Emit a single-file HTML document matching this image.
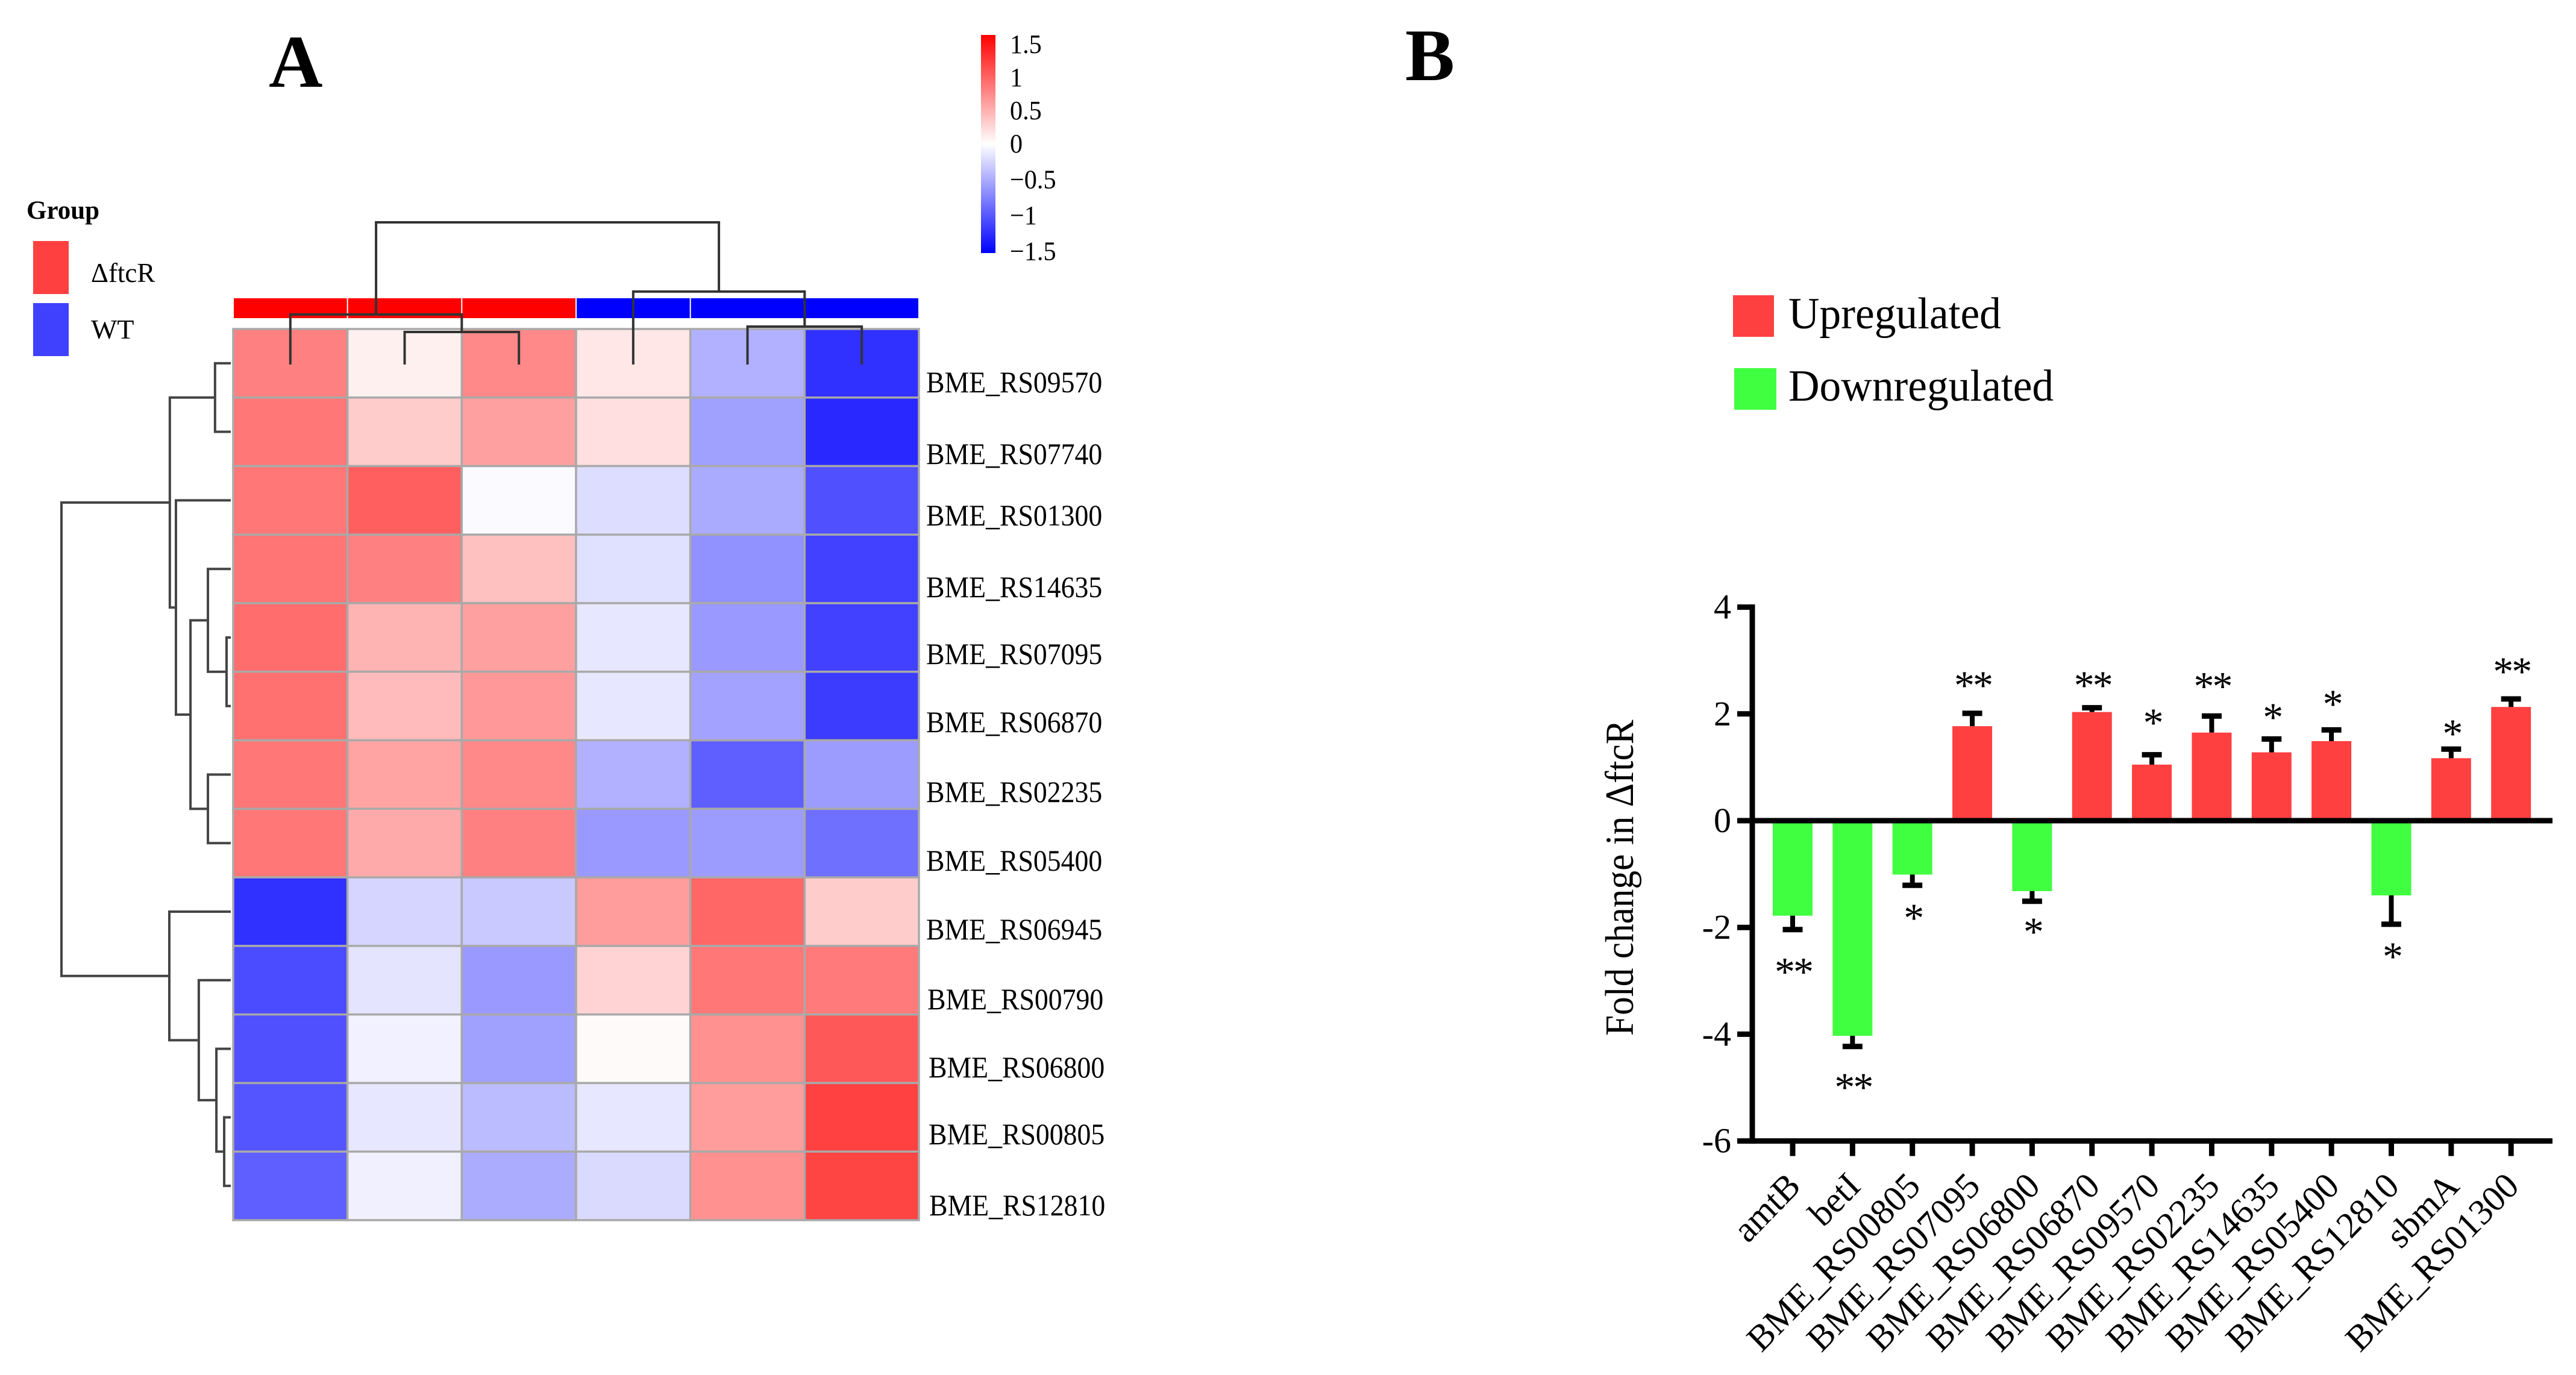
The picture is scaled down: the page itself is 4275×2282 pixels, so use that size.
<!DOCTYPE html>
<html lang="en">
<head>
<meta charset="utf-8">
<title>Heatmap and fold change chart</title>
<style>
html,body{margin:0;padding:0;background:#fff;}
svg{display:block;}
text{font-family:"Liberation Serif",serif;fill:#000;}
</style>
</head>
<body>
<svg id="fig" xmlns="http://www.w3.org/2000/svg" width="4275" height="2282" viewBox="0 0 4275 2282">
  <defs>
    <linearGradient id="cbar" x1="0" y1="0" x2="0" y2="1">
      <stop offset="0" stop-color="#ff0000"/>
      <stop offset="0.5" stop-color="#ffffff"/>
      <stop offset="1" stop-color="#0000ff"/>
    </linearGradient>
  </defs>
  <rect width="4275" height="2282" fill="#ffffff"/>

  <text x="446" y="144" font-size="124" font-weight="bold">A</text>
  <text x="2332" y="133" font-size="123" font-weight="bold">B</text>

  <text x="44" y="363" font-size="43" font-weight="bold">Group</text>
  <rect x="55" y="400" width="59" height="88" fill="#ff4040"/>
  <rect x="55" y="503" width="59" height="88" fill="#4040ff"/>
  <text x="151" y="468" font-size="45">ΔftcR</text>
  <text x="151" y="562" font-size="46">WT</text>

  <rect x="1628" y="58" width="24" height="362" fill="url(#cbar)"/>

  <g font-size="50">
    <text transform="translate(1537,651) scale(.915,1)">BME_RS09570</text>
    <text transform="translate(1537,770) scale(.915,1)">BME_RS07740</text>
    <text transform="translate(1537,872) scale(.915,1)">BME_RS01300</text>
    <text transform="translate(1537,991) scale(.915,1)">BME_RS14635</text>
    <text transform="translate(1537,1102) scale(.915,1)">BME_RS07095</text>
    <text transform="translate(1537,1215) scale(.915,1)">BME_RS06870</text>
    <text transform="translate(1537,1331) scale(.915,1)">BME_RS02235</text>
    <text transform="translate(1537,1445) scale(.915,1)">BME_RS05400</text>
    <text transform="translate(1537,1559) scale(.915,1)">BME_RS06945</text>
    <text transform="translate(1539,1675) scale(.915,1)">BME_RS00790</text>
    <text transform="translate(1541,1788) scale(.915,1)">BME_RS06800</text>
    <text transform="translate(1541,1899) scale(.915,1)">BME_RS00805</text>
    <text transform="translate(1542,2017) scale(.915,1)">BME_RS12810</text>
  </g>

  <rect x="2876" y="490" width="68" height="69" fill="#ff4040"/>
  <rect x="2878" y="611" width="70" height="69" fill="#40ff40"/>
  <text transform="translate(2968,545) scale(.965,1)" font-size="74">Upregulated</text>
  <text transform="translate(2968,665) scale(.965,1)" font-size="74">Downregulated</text>

  <text transform="translate(2710,1719) rotate(-90) scale(.915,1)" font-size="67">Fold change in ΔftcR</text>

  <g id="heat"></g>
  <g id="cbarTicks"></g>
  <g id="bars"></g>
</svg>
<script>
// Heatmap data (z-scores), rows top to bottom, columns left to right
const rowNames = ['RS09570','RS07740','RS01300','RS14635','RS07095','RS06870','RS02235','RS05400','RS06945','RS00790','RS06800','RS00805','RS12810'];
const columnGroups = ['ftcR','ftcR','ftcR','WT','WT','WT'];
const rs09570 = [0.75,0.09,0.70,0.14,-0.46,-1.22];
const rs07740 = [0.80,0.30,0.56,0.19,-0.56,-1.26];
const rs01300 = [0.80,0.94,-0.03,-0.20,-0.50,-1.03];
const rs14635 = [0.82,0.75,0.37,-0.18,-0.65,-1.12];
const rs07095 = [0.86,0.44,0.56,-0.14,-0.60,-1.12];
const rs06870 = [0.84,0.40,0.60,-0.14,-0.54,-1.15];
const rs02235 = [0.80,0.54,0.70,-0.46,-0.94,-0.58];
const rs05400 = [0.80,0.50,0.75,-0.60,-0.58,-0.84];
const rs06945 = [-1.22,-0.25,-0.32,0.58,0.90,0.30];
const rs00790 = [-1.06,-0.16,-0.60,0.26,0.80,0.78];
const rs06800 = [-1.03,-0.08,-0.56,0.03,0.65,0.98];
const rs00805 = [-1.00,-0.14,-0.40,-0.14,0.58,1.12];
const rs12810 = [-0.94,-0.09,-0.49,-0.22,0.65,1.10];
const heatRows = [rs09570,rs07740,rs01300,rs14635,rs07095,rs06870,rs02235,rs05400,rs06945,rs00790,rs06800,rs00805,rs12810];

// Dendrograms as nested merges: [left, right, mergeHeight]; numbers are leaf indices
const rowTree = [
  [[0,1,0.93],[2,[[3,[4,5,0.25],1.35],[6,7,1.35],2.38],3.24],3.6],
  [8,[9,[10,[11,12,0.39],0.85],1.89],3.63],
  10
];
const columnTree = [
  [0,[1,2,2.29],3.52],
  [3,[4,5,2.67],5.13],
  10
];

const colorbarTickValues = [1.5,1,0.5,0,-0.5,-1,-1.5];
const colorbarTickLabels = ['1.5','1','0.5','0','\u22120.5','\u22121','\u22121.5'];

// Bar chart data
const barCategories = ['amtB','betI','BME_RS00805','BME_RS07095','BME_RS06800','BME_RS06870','BME_RS09570','BME_RS02235','BME_RS14635','BME_RS05400','BME_RS12810','sbmA','BME_RS01300'];
const foldChange = [-1.78,-4.03,-1.01,1.77,-1.32,2.035,1.05,1.65,1.28,1.49,-1.40,1.17,2.13];
const errorValues = [0.26,0.20,0.20,0.24,0.19,0.08,0.185,0.31,0.25,0.21,0.54,0.17,0.15];
const significance = ['**','**','*','**','*','**','*','**','*','*','*','*','**'];
const significanceLevel = [-2.75,-4.91,-1.74,2.62,-2.00,2.62,1.92,2.60,2.02,2.27,-2.46,1.715,2.88];
const yTickValues = [4,2,0,-2,-4,-6];

const NS = 'http://www.w3.org/2000/svg';
function mk(parent, tag, attrs, txt) {
  const n = document.createElementNS(NS, tag);
  for (const k in attrs) n.setAttribute(k, attrs[k]);
  if (txt !== undefined) n.textContent = txt;
  parent.appendChild(n);
  return n;
}

// ---- Heatmap ----
const heat = document.getElementById('heat');
const HX0 = 387, HX1 = 1525, HY0 = 546, HY1 = 2025;
const cellW = (HX1 - HX0) / columnGroups.length;
const cellH = (HY1 - HY0) / rowNames.length;
const xCol = i => HX0 + i * cellW;
const yRow = i => HY0 + i * cellH;
function zColor(v) {
  const t = Math.min(1, Math.abs(v) / 1.5);
  const c = Math.round(255 * (1 - t));
  return v >= 0 ? `rgb(255,${c},${c})` : `rgb(${c},${c},255)`;
}
heatRows.forEach((row, r) => {
  row.forEach((v, c) => {
    const el = mk(heat, 'rect', {x: xCol(c), y: yRow(r), width: cellW, height: cellH, fill: zColor(v), stroke: '#a9a9a9', 'stroke-width': 3.5});
    
    
  });
});
columnGroups.forEach((g, c) => {
  const el = mk(heat, 'rect', {x: xCol(c) + 1, y: 495, width: cellW - 2, height: 33, fill: g === 'WT' ? '#0000ff' : '#ff0000'});
  
  
});

// ---- Dendrograms ----
const ROW_BASE = 383, ROW_K = 28.1, COL_BASE = 605, COL_K = 23.6;
function drawRowNode(node, layer) {
  if (typeof node === 'number') return {y: yRow(node) + cellH / 2, x: ROW_BASE};
  const a = drawRowNode(node[0], layer), b = drawRowNode(node[1], layer);
  const x = ROW_BASE - node[2] * ROW_K;
  const el = mk(layer, 'path', {d: `M${a.x} ${a.y}H${x}V${b.y}H${b.x}`, fill: 'none', stroke: '#444', 'stroke-width': 4});
  
  
  return {y: (a.y + b.y) / 2, x: x};
}
function drawColNode(node, layer) {
  if (typeof node === 'number') return {x: xCol(node) + cellW / 2, y: COL_BASE};
  const a = drawColNode(node[0], layer), b = drawColNode(node[1], layer);
  const y = COL_BASE - node[2] * COL_K;
  const el = mk(layer, 'path', {d: `M${a.x} ${a.y}V${y}H${b.x}V${b.y}`, fill: 'none', stroke: '#333', 'stroke-width': 4});
  
  
  return {x: (a.x + b.x) / 2, y: y};
}
drawRowNode(rowTree, heat);
drawColNode(columnTree, heat);

// ---- Colorbar labels ----
const cbarLayer = document.getElementById('cbarTicks');
const yCbarLabel = v => 253 - (v >= 0 ? 110 : 119) * v;
colorbarTickValues.forEach((v, i) => {
  const el = mk(cbarLayer, 'text', {transform: `translate(1676,${yCbarLabel(v)}) scale(.96,1)`, 'font-size': 44}, colorbarTickLabels[i]);
  
  
});

// ---- Bar chart ----
const bars = document.getElementById('bars');
const AX = 2908, AX_END = 4236;
const yVal = v => 1362 - 88.6 * v;
const xCat = i => 2975 + i * 99.35;
const BAR_W = 66;
foldChange.forEach((v, i) => {
  const y0 = yVal(0), y1 = yVal(v);
  const el = mk(bars, 'rect', {x: xCat(i) - BAR_W / 2, y: Math.min(y0, y1), width: BAR_W, height: Math.abs(y1 - y0), fill: v >= 0 ? '#ff4040' : '#40ff40'});
  
  
  const tip = v >= 0 ? v + errorValues[i] : v - errorValues[i];
  const stem = mk(bars, 'line', {x1: xCat(i), x2: xCat(i), y1: y1, y2: yVal(tip), stroke: '#000', 'stroke-width': 8});
  
  
  const cap = mk(bars, 'line', {x1: xCat(i) - 16.5, x2: xCat(i) + 16.5, y1: yVal(tip), y2: yVal(tip), stroke: '#000', 'stroke-width': 9});
  
  
  const star = mk(bars, 'text', {x: xCat(i) + 1, y: yVal(significanceLevel[i]) + 30, 'font-size': 68, 'letter-spacing': -3, 'text-anchor': 'middle'}, significance[i]);
  
  
});

// axes
const yAxis = mk(bars, 'line', {x1: AX, x2: AX, y1: yVal(4) - 4.5, y2: yVal(-6) + 4.5, stroke: '#000', 'stroke-width': 9});


const zeroLine = mk(bars, 'line', {x1: AX, x2: AX_END, y1: yVal(0), y2: yVal(0), stroke: '#000', 'stroke-width': 9});


const xAxis = mk(bars, 'line', {x1: AX, x2: AX_END, y1: yVal(-6), y2: yVal(-6), stroke: '#000', 'stroke-width': 9});



yTickValues.forEach(v => {
  const t = mk(bars, 'line', {x1: 2883, x2: AX, y1: yVal(v), y2: yVal(v), stroke: '#000', 'stroke-width': 9});
  
  
  const l = mk(bars, 'text', {x: 2873, y: yVal(v) + 19, 'font-size': 58, 'text-anchor': 'end'}, String(v));
  
  
});
barCategories.forEach((name, i) => {
  const t = mk(bars, 'line', {x1: xCat(i), x2: xCat(i), y1: yVal(-6), y2: yVal(-6) + 25, stroke: '#000', 'stroke-width': 9});
  
  
  const l = mk(bars, 'text', {transform: `translate(${xCat(i) + 16},${yVal(-6) + 78}) scale(1,1.03) rotate(-45)`, 'font-size': 59, 'text-anchor': 'end'}, name);
  
  
});
</script>
</body>
</html>
